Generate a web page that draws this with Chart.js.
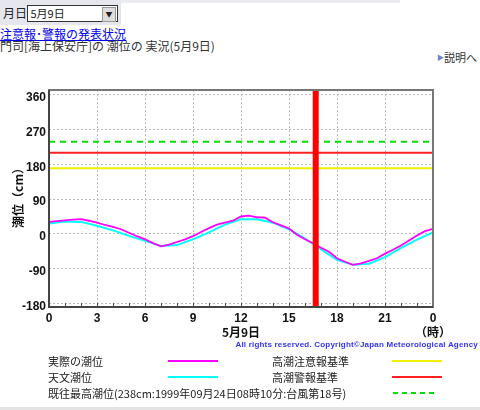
<!DOCTYPE html>
<html>
<head>
<meta charset="utf-8">
<script src="https://cdn.jsdelivr.net/npm/chart.js@4.4.1/dist/chart.umd.min.js"></script>
<style>
  body { margin: 0; width: 480px; height: 410px; position: relative; overflow: hidden; background: #fff;
         font-family: "Noto Sans CJK JP", sans-serif; color: #222; }
  .abs { position: absolute; white-space: nowrap; }
  #topbar { left: 0; top: 0; width: 400px; height: 3px; background: #ebebf2; }
  #selbox { left: 0; top: 0; width: 121px; height: 25px; background: #e6e6ee; }
  #sel { left: 27px; top: 5px; width: 89px; height: 15px; border: 1px solid #333; background: #fff; font-size: 11px; line-height: 15px; }
  #sel span.btn { position: absolute; right: 1px; top: 1px; width: 12px; height: 13px; background: #ddd; border: 1px solid #999;
                  font-size: 7px; line-height: 13px; text-align: center; }
  #link { left: 0; top: 25px; font-size: 12px; color: #0000ee; text-decoration: underline; }
  #title { left: 0; top: 37px; font-size: 12px; color: #333; }
  #help { right: 3px; top: 49px; font-size: 11px; color: #333; }
  #help b { color: #6a86c8; font-size: 7px; vertical-align: 2px; }
  #copy { right: 2px; top: 340px; font: bold 8px "Liberation Sans", sans-serif; color: #3333ff; letter-spacing: 0.2px; }
  #chartBox { left: 0; top: 85px; width: 480px; height: 270px; }
  .lg { font-size: 11px; color: #222; }
  .ln { height: 2px; width: 50px; }
  #bottom { left: 0; top: 407px; width: 480px; height: 3px; background: #e4e4e4; }
</style>
</head>
<body>
<div class="abs" id="topbar"></div>
<div class="abs" id="selbox"></div>
<div class="abs" style="left:3px;top:4px;font-size:12px;">月日</div>
<div class="abs" id="sel">&nbsp;5月9日<span class="btn">▼</span></div>
<div class="abs" id="link">注意報･警報の発表状況</div>
<div class="abs" id="title">門司[海上保安庁]の 潮位の 実況(5月9日)</div>
<div class="abs" id="help"><b>▶</b>説明へ</div>

<div class="abs" id="chartBox"><canvas id="chartTide" width="480" height="270"></canvas></div>
<div class="abs" id="copy">All rights reserved. Copyright©Japan Meteorological Agency</div>

<div class="abs lg" style="left:48px;top:353px;">実際の潮位</div>
<div class="abs ln" style="left:168px;top:360px;background:#ff00ff;"></div>
<div class="abs lg" style="left:48px;top:369px;">天文潮位</div>
<div class="abs ln" style="left:168px;top:376px;background:#00ffff;"></div>
<div class="abs lg" style="left:48px;top:385px;">既往最高潮位(238cm:1999年09月24日08時10分:台風第18号)</div>
<div class="abs lg" style="left:272px;top:353px;">高潮注意報基準</div>
<div class="abs ln" style="left:392px;top:360px;background:#f0f000;"></div>
<div class="abs lg" style="left:272px;top:369px;">高潮警報基準</div>
<div class="abs ln" style="left:392px;top:376px;background:#ff2020;"></div>
<div class="abs ln" style="left:393px;top:392px;width:45px;background:repeating-linear-gradient(90deg,#00e000 0 5px,transparent 5px 9px);"></div>
<div class="abs" id="bottom"></div>

<script>
// 時刻 (時) と 潮位 (cm)
const obsHours = [0, 0.5, 1, 1.5, 2, 2.5, 3, 3.5, 4, 4.5, 5, 5.5, 6, 6.5, 7, 7.5, 8, 8.5, 9, 9.5, 10, 10.5, 11, 11.5,
                  12, 12.5, 13, 13.5, 14, 14.5, 15, 15.5, 16, 16.5, 17, 17.5, 18, 18.5, 19, 19.5, 20, 20.5, 21, 21.5,
                  22, 22.5, 23, 23.5, 24];
const obsLevel = [31, 33, 35, 37, 38, 34, 29, 23, 18, 12, 3, -6, -14, -24, -32, -28, -21, -14, -6, 5, 15, 24, 29, 34,
                  45, 47, 43, 42, 30, 22, 14, -2, -14, -24, -36, -46, -63, -72, -80, -76, -70, -63, -51, -41,
                  -30, -17, -4, 7, 13];
const astroHours = [0, 1, 2, 3, 4, 5, 6, 7, 8, 9, 10, 11, 12, 13, 14, 15, 16, 17, 18, 19, 20, 21, 22, 23, 24];
const astroLevel = [27, 32, 31, 21, 9, -5, -18, -31, -29, -14, 4, 24, 38, 38, 29, 12, -12, -40, -67, -80, -77, -60, -36, -15, 4];

const cautionLevel = 170;   // 高潮注意報基準
const warningLevel = 210;   // 高潮警報基準
const recordLevel = 238;    // 既往最高潮位
const nowHour = 16.67;      // 現在時刻

const xTicks = [0, 3, 6, 9, 12, 15, 18, 21, 24];
const xMinorTicks = [1, 2, 4, 5, 7, 8, 10, 11, 13, 14, 16, 17, 19, 20, 22, 23];
const yTicks = [-180, -90, 0, 90, 180, 270, 360];
const yMin = -189, yMax = 372;

document.addEventListener("DOMContentLoaded", function () {

    const toXY = (xs, ys) => xs.map((x, i) => ({ x: x, y: ys[i] }));
    const hLine = v => [{ x: 0, y: v }, { x: 24, y: v }];
    const tickFont = { family: '"Liberation Sans", sans-serif', size: 12, weight: 'bold' };

    // 枠・小目盛・軸ラベル
    const framePlugin = {
        id: 'frame',
        afterDraw(chart) {
            const { ctx, chartArea: a, scales: { x } } = chart;
            ctx.save();
            ctx.strokeStyle = '#555';
            ctx.lineWidth = 1;
            xMinorTicks.concat(xTicks).forEach(h => {
                const px = Math.round(x.getPixelForValue(h)) + 0.5;
                ctx.beginPath(); ctx.moveTo(px, a.bottom); ctx.lineTo(px, a.bottom - 4); ctx.stroke();
            });
            ctx.lineWidth = 2;
            ctx.strokeStyle = '#777';
            ctx.strokeRect(a.left, a.top, a.right - a.left, a.bottom - a.top);
            ctx.strokeStyle = '#444';
            ctx.beginPath(); ctx.moveTo(a.left, a.top); ctx.lineTo(a.left, a.bottom); ctx.lineTo(a.right, a.bottom); ctx.stroke();

            ctx.fillStyle = '#111';
            ctx.textAlign = 'center';
            ctx.textBaseline = 'middle';
            ctx.font = 'bold 12px "Noto Sans CJK JP", sans-serif';
            ctx.fillText('5月9日', x.getPixelForValue(12), 247);
            ctx.fillText('（時）', x.getPixelForValue(24), 247);
            ctx.translate(18, 110);
            ctx.rotate(-Math.PI / 2);
            ctx.fillText('潮位（cm）', 0, 0);
            ctx.restore();
        }
    };

    const ctxTide = document.getElementById('chartTide');
    new Chart(ctxTide, {
        type: 'line',
        data: {
            datasets: [
                { label: '現在', data: [{ x: nowHour, y: yMin }, { x: nowHour, y: yMax }], borderColor: '#ff0000', borderWidth: 6 },
                { label: '実際の潮位', data: toXY(obsHours, obsLevel), borderColor: '#ff00ff', borderWidth: 1.8 },
                { label: '天文潮位', data: toXY(astroHours, astroLevel), borderColor: '#00ffff', borderWidth: 2 },
                { label: '既往最高潮位', data: hLine(recordLevel), borderColor: '#00e000', borderWidth: 2, borderDash: [6, 5] },
                { label: '高潮警報基準', data: hLine(warningLevel), borderColor: '#ff2020', borderWidth: 2 },
                { label: '高潮注意報基準', data: hLine(cautionLevel), borderColor: '#f0f000', borderWidth: 2 }
            ]
        },
        options: {
            responsive: false,
            animation: false,
            events: [],
            clip: false,
            elements: { point: { radius: 0 }, line: { tension: 0 } },
            layout: { padding: { left: 0, right: 47, top: 5, bottom: 30 } },
            plugins: { legend: { display: false }, tooltip: { enabled: false } },
            scales: {
                x: {
                    type: 'linear', min: 0, max: 24,
                    afterFit: s => { s.height = 18; s.paddingLeft = 0; s.paddingRight = 0; },
                    afterBuildTicks: s => { s.ticks = xTicks.map(v => ({ value: v })); },
                    ticks: { callback: v => (v === 24 ? '0' : String(v)), font: tickFont, color: '#111', padding: 4, maxRotation: 0, autoSkip: false },
                    grid: { color: '#bbb', drawTicks: false },
                    border: { display: false, dash: [2, 2] }
                },
                y: {
                    min: yMin, max: yMax,
                    afterFit: s => { s.width = 49; s.paddingTop = 0; s.paddingBottom = 0; },
                    afterBuildTicks: s => { s.ticks = yTicks.map(v => ({ value: v })); },
                    ticks: { font: tickFont, color: '#111', padding: 3, labelOffset: 3 },
                    grid: { color: '#bbb', drawTicks: false },
                    border: { display: false, dash: [2, 2] }
                }
            }
        },
        plugins: [framePlugin]
    });
});
</script>
</body>
</html>
